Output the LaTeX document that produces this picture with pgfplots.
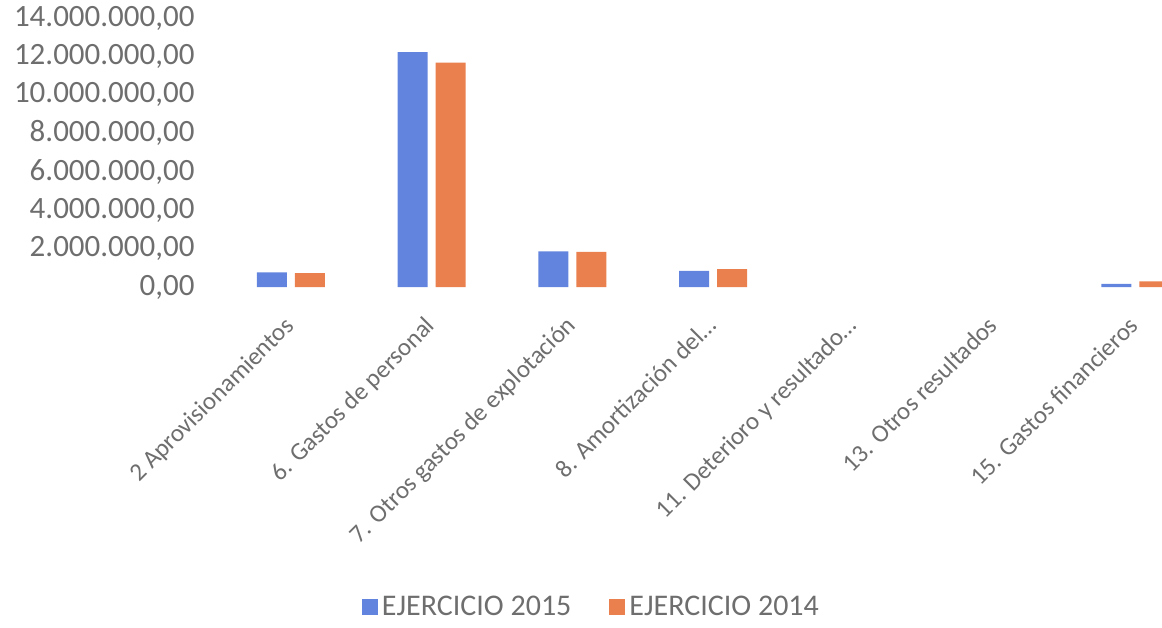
\documentclass[border=0pt]{standalone}
\usepackage{fontspec}
\setmainfont{Carlito}
\usepackage{pgfplots}
\pgfplotsset{compat=1.18}

\definecolor{ej15}{RGB}{98,132,222}
\definecolor{ej14}{RGB}{233,128,78}
\definecolor{txt}{RGB}{110,110,110}

\begin{document}
\begin{tikzpicture}
\useasboundingbox (0,0) rectangle (581pt,313.5pt);
\begin{axis}[
    at={(110.3pt,170pt)}, anchor=south west,
    scale only axis,
    width=470.7pt, height=134.5pt,
    ybar=4pt, bar width=15pt,
    legend image code/.code={\fill[#1,draw=none] (0pt,-4pt) rectangle (8pt,4pt);},
    xmin=-0.5, xmax=6.19,
    ymin=0, ymax=14000000,
    ytick={0,2000000,4000000,6000000,8000000,10000000,12000000,14000000},
    scaled y ticks=false,
    /pgf/number format/.cd, fixed, fixed zerofill, precision=2, 1000 sep={.}, use comma, assume math mode=true,
    /pgfplots/.cd,
    xtick={0,1,2,3,4,5,6},
    xticklabels={{2 Aprovisionamientos}, {6. Gastos de personal}, {7. Otros gastos de explotación},
        {8. Amortización del\ldots}, {11. Deterioro y resultado\ldots}, {13. Otros resultados}, {15. Gastos financieros}},
    axis line style={draw=none},
    major tick length=0pt,
    yticklabel style={font=\fontsize{15.5}{17}\selectfont, text=txt, xshift=-9.5pt},
    xticklabel style={font=\fontsize{12.5}{14}\selectfont, text=txt, xshift=-4pt, yshift=-9pt, rotate=45, anchor=north east},
    legend columns=2,
    legend style={draw=none, fill=none, font=\fontsize{15}{17}\selectfont, text=txt,
        at={(0.395,-1.19)}, anchor=center, inner sep=1pt,
        /tikz/every even column/.append style={column sep=17pt}},
]
\addplot[fill=ej15, draw=none] coordinates {
    (0,760000) (1,12220000) (2,1860000) (3,840000) (6,160000)
};
\addplot[fill=ej14, draw=none] coordinates {
    (0,720000) (1,11680000) (2,1830000) (3,930000) (6,290000)
};
\legend{EJERCICIO 2015, EJERCICIO 2014}
\end{axis}
\end{tikzpicture}
\end{document}
